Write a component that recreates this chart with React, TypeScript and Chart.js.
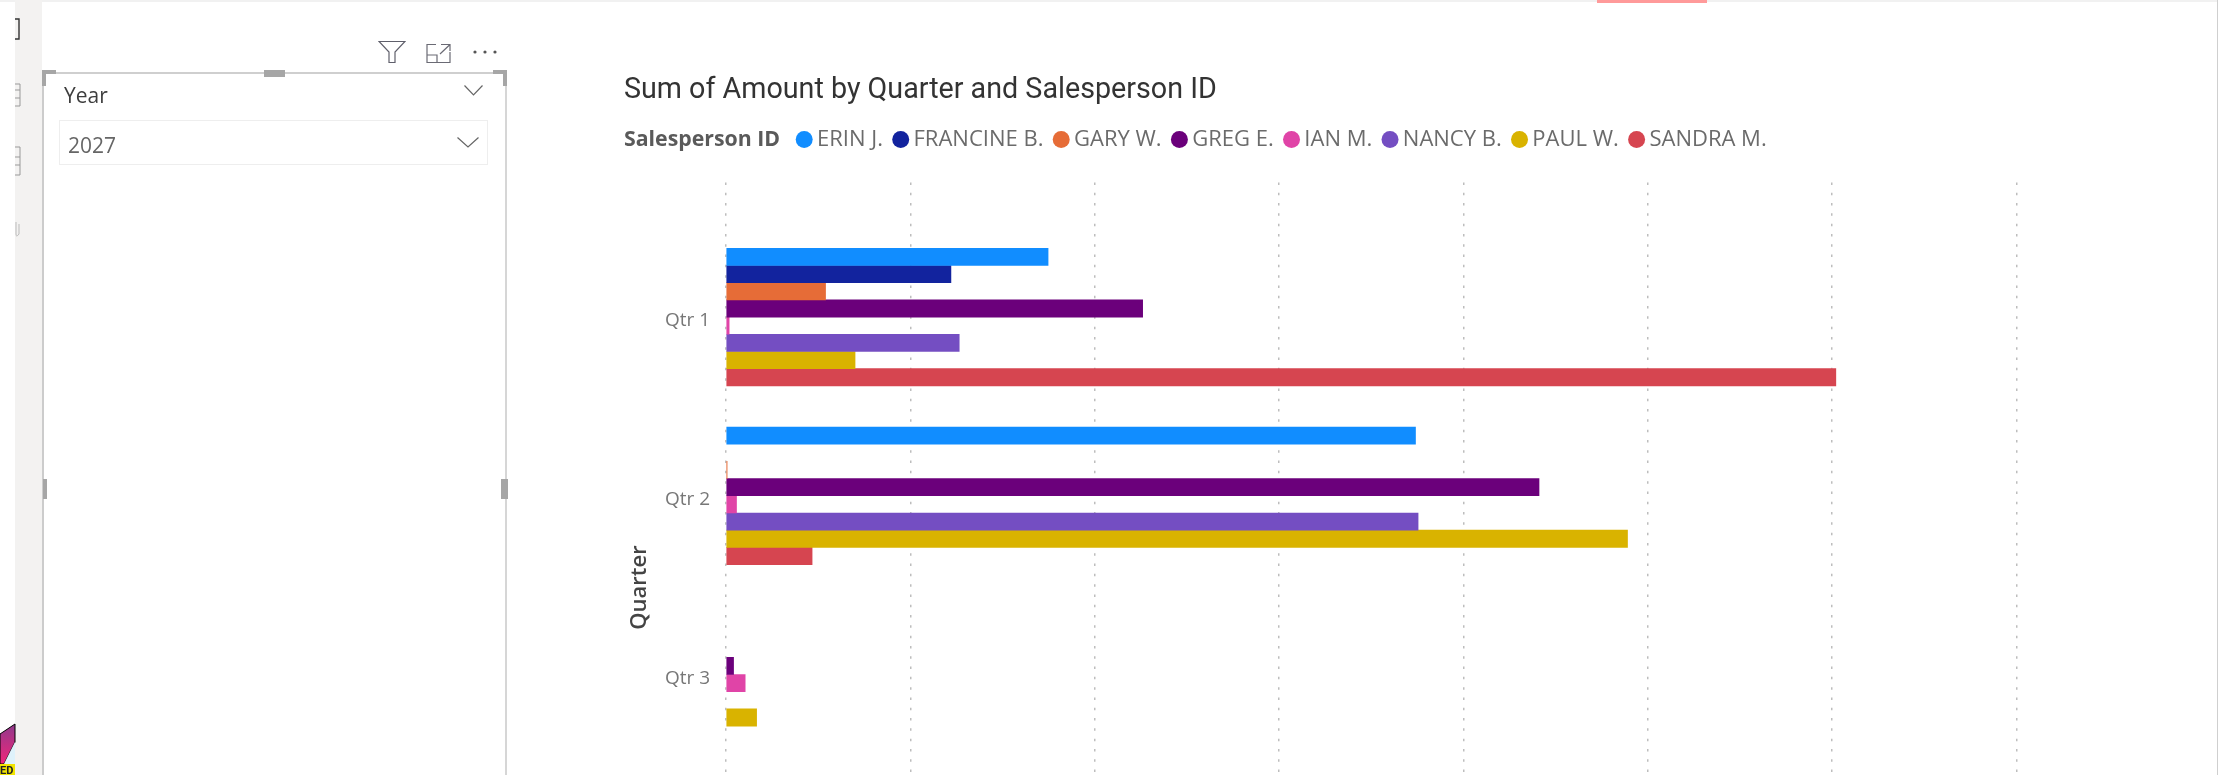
import React, { useEffect, useRef } from "react";
import { Chart, registerables } from "chart.js";

Chart.register(...registerables);

const categories = ["Qtr 1", "Qtr 2", "Qtr 3"];
const salespeople = ["ERIN J.", "FRANCINE B.", "GARY W.", "GREG E.", "IAN M.", "NANCY B.", "PAUL W.", "SANDRA M."];
const colors = ["#118DFF", "#12239E", "#E66C37", "#6B007B", "#E044A7", "#744EC2", "#D9B300", "#D64550"];
const erin = [174.7, 374, null];
const francine = [122, null, null];
const gary = [54, 0.6, null];
const greg = [226, 441, 4.1];
const ian = [1.7, 5.7, 10.4];
const nancy = [126.5, 375.4, null];
const paul = [70, 489, 16.6];
const sandra = [602, 46.7, null];
const seriesValues = [erin, francine, gary, greg, ian, nancy, paul, sandra];

const textFont = "'Open Sans', 'Noto Sans', sans-serif";

const placeLegend = {
  id: "placeLegend",
  beforeDraw(chart: any) {
    if (chart.legend) {
      chart.legend.left = 162.4;
      chart.legend.top = 112.5;
    }
  },
};

function Box(p: { x: number; y: number; w: number; h: number; c: string }) {
  return <div style={{ position: "absolute", left: p.x, top: p.y, width: p.w, height: p.h, background: p.c }} />;
}

function Chevron(p: { x: number; y: number; w: number; h: number }) {
  return (
    <svg style={{ position: "absolute", left: p.x, top: p.y }} width={p.w} height={p.h}>
      <polyline points={`0.5,0.5 ${p.w / 2},${p.h - 1} ${p.w - 0.5},0.5`} fill="none" stroke="#666" strokeWidth="1.2" />
    </svg>
  );
}

export default function App() {
  const ref = useRef<HTMLCanvasElement>(null);
  useEffect(() => {
    const chart = new Chart(ref.current!, {
      type: "bar",
      data: {
        datasets: salespeople.map((name, s) => ({
          label: name,
          data: categories.map((_, i) => ({ x: seriesValues[s][i], y: i + 1 })),
          backgroundColor: colors[s],
          borderWidth: 0,
          barThickness: 17.2,
        })),
      },
      plugins: [placeLegend],
      options: {
        indexAxis: "y",
        responsive: false,
        animation: false,
        layout: { padding: { left: 0, right: 201.5, top: 0, bottom: 0 } },
        plugins: {
          tooltip: { enabled: false },
          title: {
            display: true,
            text: "Sum of Amount by Quarter and Salesperson ID",
            align: "start",
            color: "#333333",
            font: { family: "Roboto", size: 28.7, weight: "400" },
            padding: { top: 74, bottom: 26 },
          },
          legend: {
            display: true,
            position: "top",
            align: "start",
            onClick: undefined,
            labels: {
              usePointStyle: true,
              pointStyle: "circle",
              boxWidth: 3.6,
              boxHeight: 12,
              padding: 16,
              color: "#6b6b6b",
              font: { family: textFont, size: 22 },
            },
          },
        },
        scales: {
          x: {
            type: "linear",
            min: 0,
            max: 700,
            ticks: { display: false, stepSize: 100 },
            grid: { color: "#bdbdbd", lineWidth: 1.5, drawTicks: false },
            border: { display: false, dash: [2.5, 7.8] },
          },
          y: {
            type: "linear",
            reverse: true,
            offset: false,
            min: 0.2467,
            max: 4.78,
            afterBuildTicks(scale: any) {
              scale.ticks = categories.map((_, i) => ({ value: i + 1 }));
            },
            afterFit(scale: any) {
              scale.width = 102;
            },
            ticks: {
              autoSkip: false,
              padding: 16,
              labelOffset: 4,
              color: "#777777",
              font: { family: textFont, size: 19 },
              callback: (v: any) => categories[Number(v) - 1] ?? "",
            },
            grid: { display: false, drawTicks: false, offset: false },
            border: { display: false },
            title: {
              display: true,
              text: "Quarter",
              color: "#444444",
              font: { family: textFont, size: 22, weight: "600" },
              padding: { top: 3, bottom: 0 },
            },
          },
        },
      },
    } as any);
    return () => chart.destroy();
  }, []);

  return (
    <div style={{ position: "absolute", left: 0, top: 0, width: 2218, height: 775, overflow: "hidden", background: "#fff", fontFamily: textFont }}>
      <canvas ref={ref} width={1594} height={1020} style={{ position: "absolute", left: 624, top: 0, width: 1594, height: 1020 }} />

      <div style={{ position: "absolute", left: 624, top: 123, fontSize: 21.3, fontWeight: 700, color: "#5a5a5a", lineHeight: "30px" }}>Salesperson ID</div>

      {/* page furniture */}
      <Box x={0} y={0} w={2218} h={2} c="#f1f1f1" />
      <Box x={1597} y={0} w={110} h={2.5} c="#ff9a9a" />
      <Box x={2217} y={0} w={1} h={775} c="#cfcfcf" />
      <Box x={15} y={0} w={27} h={775} c="#f3f2f1" />

      {/* slicer */}
      <Box x={42} y={72} w={2} h={703} c="#cccccc" />
      <Box x={505} y={72} w={2} h={703} c="#d6d6d6" />
      <Box x={42} y={72} w={465} h={1.5} c="#cfcfcf" />
      <div style={{ position: "absolute", left: 42, top: 70, width: 14, height: 4, background: "#a6a6a6" }} />
      <div style={{ position: "absolute", left: 42, top: 70, width: 4, height: 16, background: "#a6a6a6" }} />
      <div style={{ position: "absolute", left: 493, top: 70, width: 14, height: 4, background: "#a6a6a6" }} />
      <div style={{ position: "absolute", left: 503, top: 70, width: 4, height: 16, background: "#a6a6a6" }} />
      <Box x={264} y={70} w={21} h={7} c="#a6a6a6" />
      <Box x={42.5} y={479} w={4} h={20} c="#a6a6a6" />
      <Box x={501} y={479} w={6.5} h={20} c="#a6a6a6" />
      <div style={{ position: "absolute", left: 64, top: 80, fontSize: 21, lineHeight: "30px", color: "#3d3d3d" }}>Year</div>
      <Chevron x={464} y={85} w={19} h={11} />
      <div style={{ position: "absolute", left: 59, top: 120, width: 429, height: 45, boxSizing: "border-box", border: "1.5px solid #eeeeee" }} />
      <div style={{ position: "absolute", left: 68, top: 130, fontSize: 21, lineHeight: "30px", color: "#666666" }}>2027</div>
      <Chevron x={457} y={137} w={22} h={11} />

      {/* visual header icons */}
      <svg style={{ position: "absolute", left: 378, top: 40 }} width={28} height={24}>
        <path d="M1 1.5H27L17 12V22.5H11V12Z" fill="none" stroke="#5f5f6b" strokeWidth="1.2" />
      </svg>
      <svg style={{ position: "absolute", left: 426, top: 43 }} width={25} height={21}>
        <path d="M10 1.5H1V19.5H24V9M1 12H11V19.5M15 1.5H24V8M24 1.5L14 11" fill="none" stroke="#6a6a74" strokeWidth="1.2" />
      </svg>
      <svg style={{ position: "absolute", left: 472, top: 49 }} width={26} height={6}>
        <circle cx="3" cy="3" r="1.6" fill="#555" />
        <circle cx="13" cy="3" r="1.6" fill="#555" />
        <circle cx="23" cy="3" r="1.6" fill="#555" />
      </svg>

      {/* left edge fragments */}
      <svg style={{ position: "absolute", left: 0, top: 0 }} width={22} height={775}>
        <path d="M15 19H19V39H15" fill="none" stroke="#333" strokeWidth="1.4" />
        <path d="M15 84H20V106H15M15 90H20M15 98H20" fill="none" stroke="#999" strokeWidth="1" />
        <path d="M15 147H20V175H15M15 157H20M15 165H20" fill="none" stroke="#999" strokeWidth="1" />
        <path d="M16 222V234Q16 238 19 234V224" fill="none" stroke="#bbb" strokeWidth="1" />
        <defs>
          <linearGradient id="logoFill" x1="0" y1="0" x2="0" y2="1">
            <stop offset="0" stopColor="#8f3a8c" />
            <stop offset="1" stopColor="#f0257a" />
          </linearGradient>
        </defs>
        <path d="M0 734L15 724V742L4 764H0Z" fill="url(#logoFill)" stroke="#000" strokeWidth="1" />
        <path d="M4 764L15 742V764Z" fill="#dff2fb" />
        <rect x="0" y="764" width="15" height="11" fill="#f2e500" />
        <text x="0" y="774" fontSize="11" fontWeight="700" fill="#222" fontFamily="Roboto">ED</text>
      </svg>
    </div>
  );
}
